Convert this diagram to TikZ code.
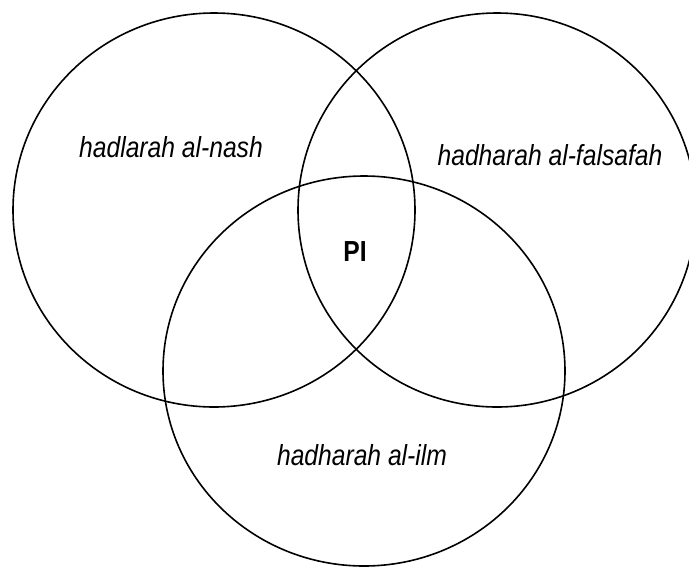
\documentclass[tikz,border=0pt]{standalone}
\usepackage{fontspec}
\setmainfont{Liberation Sans}[FakeStretch=0.85]
\begin{document}
\begin{tikzpicture}[x=1pt,y=-1pt,
  ring/.style={draw=black,line width=1.6pt},
  lbl/.style={anchor=base,inner sep=0pt,font=\fontsize{29}{34}\selectfont\itshape},
  core/.style={anchor=base,inner sep=0pt,font=\fontsize{29}{34}\selectfont\bfseries}]
  \useasboundingbox (0,0) rectangle (689,566);
  \begin{scope}
    \clip (0,0) rectangle (689,566);
    % the three overlapping sets
    \draw[ring] (214,210) ellipse [x radius=201, y radius=197];
    \draw[ring] (497,210) ellipse [x radius=199, y radius=197];
    \draw[ring] (364,371) ellipse [x radius=201, y radius=195];
  \end{scope}
  \node[lbl]  (nash)     at (171,157) {hadlarah al-nash};
  \node[lbl]  (falsafah) at (550,165) {hadharah al-falsafah};
  \node[lbl]  (ilm)      at (362,465) {hadharah al-ilm};
  \node[core] (pi)       at (355,261) {PI};
\end{tikzpicture}
\end{document}
